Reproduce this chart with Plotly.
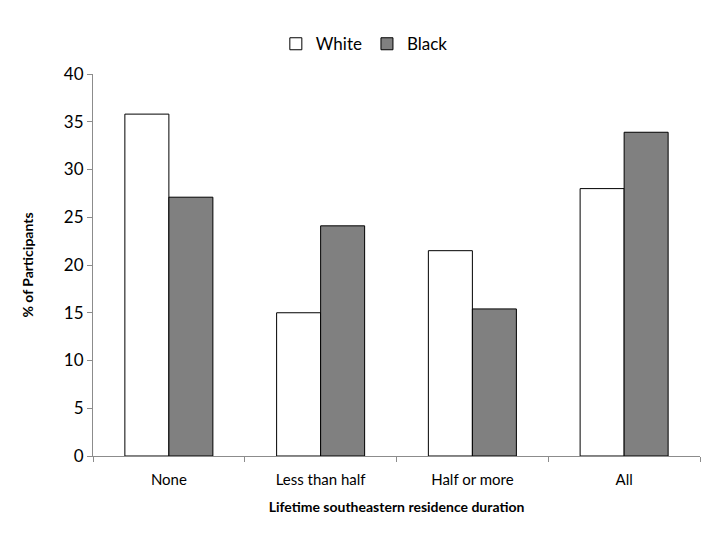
import plotly.graph_objects as go

categories = ["None", "Less than half", "Half or more", "All"]
white = [35.8, 15.0, 21.5, 28.0]
black = [27.1, 24.1, 15.4, 33.9]
y_ticks = [0, 5, 10, 15, 20, 25, 30, 35, 40]

FONT = "Lato, 'Open Sans', sans-serif"

fig = go.Figure()
fig.add_trace(go.Bar(name="White", x=categories, y=white,
                     marker=dict(color="white", line=dict(color="black", width=1))))
fig.add_trace(go.Bar(name="Black", x=categories, y=black,
                     marker=dict(color="#808080", line=dict(color="black", width=1))))

fig.update_layout(
    width=720, height=540,
    paper_bgcolor="white", plot_bgcolor="white",
    margin=dict(l=85, r=28, t=66, b=92),
    barmode="group", bargap=0.42, bargroupgap=0,
    font=dict(family=FONT, size=15, color="black"),
    legend=dict(orientation="h", x=0.447, xanchor="center", y=1.078, yanchor="middle",
                font=dict(size=17), itemwidth=30, traceorder="normal"),
    xaxis=dict(
        showline=True, linecolor="#8c8c8c", linewidth=1,
        ticks="outside", tickson="boundaries", ticklen=5, tickcolor="#8c8c8c",
        tickfont=dict(size=15), ticklabelstandoff=10,
        title=dict(text="<b>Lifetime southeastern residence duration</b>", font=dict(size=14), standoff=15),
    ),
    yaxis=dict(
        range=[0, 40], tickvals=y_ticks, showgrid=False, zeroline=False,
        showline=True, linecolor="#8c8c8c", linewidth=1,
        ticks="outside", ticklen=5, tickcolor="#8c8c8c",
        tickfont=dict(size=17),
        title=dict(text="<b>% of Participants</b>", font=dict(size=14), standoff=26),
    ),
)

fig.write_html("out.html")
